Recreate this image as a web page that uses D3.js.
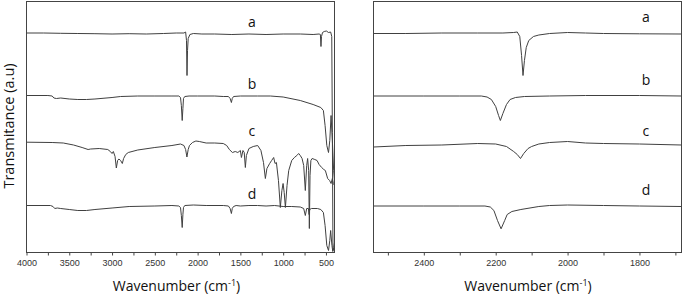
<!DOCTYPE html>
<html>
<head>
<meta charset="utf-8">
<script src="https://cdn.jsdelivr.net/npm/d3@7"></script>
<style>
	body { margin: 0; background: #fff; }
	.axis text { font-family: "Liberation Sans", Arial, sans-serif; font-size: 9px; fill: #333; }
	.axis line { stroke: #444; }
	.frame { fill: none; stroke: #444; stroke-width: 1; }
	.spec { fill: none; stroke: #404040; stroke-width: 1; }
	.lbl { font-family: "Open Sans", "Noto Sans", sans-serif; fill: #111; }
</style>
</head>
<body>
<div id="chart"></div>
<script>
// series names
var seriesNames = ["a", "b", "c", "d"];

// full range spectra [wavenumber, transmittance a.u.]
var fullA = [[4000,2.195],[3800,2.195],[3600,2.192],[3400,2.19],[3200,2.188],[3000,2.185],[2800,2.188],[2600,2.185],[2400,2.19],[2250,2.195],[2160,2.195],[2140,2.205],[2130,2.12],[2124,1.77],[2118,2.02],[2110,2.14],[2090,2.18],[2050,2.19],[1950,2.185],[1800,2.185],[1600,2.18],[1400,2.185],[1200,2.18],[1000,2.185],[800,2.185],[650,2.18],[580,2.185],[565,2.18],[558,2.06],[552,2.16],[540,2.2],[520,2.21],[495,2.215],[470,2.2],[445,2.205],[432,2.16],[425,1.2],[418,0.02],[410,0.05],[400,0.1]];
var fullB = [[4000,1.57],[3750,1.57],[3700,1.565],[3680,1.545],[3650,1.54],[3600,1.545],[3500,1.535],[3400,1.53],[3300,1.53],[3200,1.535],[3000,1.55],[2900,1.56],[2700,1.565],[2500,1.565],[2300,1.565],[2220,1.565],[2200,1.55],[2190,1.47],[2180,1.32],[2172,1.44],[2165,1.54],[2150,1.56],[2100,1.565],[2000,1.565],[1800,1.565],[1700,1.56],[1640,1.56],[1620,1.54],[1605,1.50],[1595,1.54],[1580,1.56],[1500,1.565],[1300,1.565],[1150,1.565],[1000,1.555],[800,1.52],[650,1.48],[560,1.45],[530,1.42],[510,1.27],[490,1.07],[470,1.0],[455,1.12],[440,1.37],[425,1.12],[410,0.82],[400,0.72]];
var fullC = [[4000,1.103],[3700,1.10],[3570,1.095],[3450,1.075],[3350,1.05],[3280,1.03],[3250,1.035],[3150,1.04],[3050,1.03],[3020,1.01],[3000,0.99],[2985,1.01],[2965,0.96],[2950,0.845],[2935,0.92],[2920,0.935],[2900,0.92],[2880,0.89],[2865,0.94],[2840,0.98],[2810,1.00],[2700,1.025],[2500,1.05],[2300,1.07],[2200,1.085],[2160,1.07],[2140,1.03],[2125,0.955],[2110,1.03],[2095,1.07],[2060,1.10],[2020,1.115],[1980,1.11],[1900,1.095],[1800,1.095],[1700,1.09],[1660,1.07],[1629,1.03],[1593,1.00],[1560,1.01],[1530,1.00],[1500,1.02],[1488,0.95],[1470,1.02],[1455,1.00],[1442,0.85],[1430,0.97],[1400,1.04],[1350,1.06],[1298,1.07],[1260,1.02],[1230,0.90],[1208,0.74],[1190,0.84],[1158,0.89],[1135,0.92],[1111,0.95],[1095,0.89],[1079,0.90],[1055,0.72],[1033,0.45],[1015,0.62],[1001,0.69],[988,0.60],[974,0.45],[955,0.67],[935,0.82],[900,0.92],[869,0.95],[840,0.97],[819,0.99],[800,0.97],[779,0.94],[760,0.87],[741,0.62],[725,0.87],[714,0.94],[702,0.82],[694,0.24],[686,0.77],[676,0.92],[662,0.94],[630,0.93],[604,0.92],[580,0.88],[550,0.85],[525,0.83],[507,0.82],[480,0.74],[457,0.72],[440,0.69],[425,0.74],[414,0.69],[400,0.67]];
var fullD = [[4000,0.47],[3720,0.47],[3690,0.46],[3670,0.44],[3640,0.445],[3600,0.44],[3500,0.43],[3400,0.42],[3300,0.42],[3200,0.43],[3000,0.445],[2800,0.46],[2500,0.465],[2300,0.47],[2220,0.465],[2200,0.45],[2190,0.37],[2180,0.25],[2172,0.38],[2165,0.45],[2150,0.47],[2050,0.475],[1900,0.47],[1700,0.47],[1640,0.465],[1620,0.44],[1605,0.39],[1595,0.44],[1580,0.46],[1550,0.47],[1500,0.465],[1400,0.47],[1300,0.47],[1200,0.465],[1100,0.47],[1000,0.46],[900,0.46],[800,0.455],[760,0.44],[741,0.37],[725,0.44],[705,0.44],[697,0.38],[690,0.43],[670,0.44],[600,0.44],[560,0.43],[530,0.40],[510,0.27],[490,0.07],[470,0.02],[455,0.12],[445,0.22],[430,0.07],[420,0.01],[410,0.04],[400,0.02]];

// zoomed spectra (2540 - 1683 cm-1)
var zoomA = [[2540,2.19],[2450,2.19],[2350,2.195],[2250,2.195],[2180,2.195],[2150,2.2],[2140,2.205],[2133,2.16],[2128,1.97],[2124,1.77],[2120,1.92],[2115,2.05],[2108,2.12],[2095,2.16],[2080,2.175],[2050,2.19],[2000,2.2],[1950,2.195],[1900,2.19],[1800,2.187],[1683,2.185]];
var zoomB = [[2540,1.565],[2400,1.565],[2300,1.565],[2240,1.565],[2224,1.555],[2212,1.53],[2200,1.46],[2192,1.37],[2187,1.32],[2180,1.39],[2170,1.48],[2160,1.53],[2145,1.55],[2120,1.56],[2050,1.565],[1950,1.57],[1800,1.57],[1683,1.565]];
var zoomC = [[2540,1.055],[2450,1.07],[2350,1.075],[2250,1.09],[2200,1.085],[2170,1.06],[2150,1.01],[2140,0.98],[2131,0.94],[2122,0.99],[2110,1.04],[2100,1.06],[2080,1.085],[2050,1.10],[2000,1.11],[1950,1.095],[1900,1.09],[1800,1.085],[1683,1.075]];
var zoomD = [[2540,0.465],[2400,0.465],[2300,0.465],[2230,0.465],[2215,0.455],[2205,0.42],[2195,0.32],[2185,0.237],[2175,0.32],[2168,0.38],[2155,0.41],[2130,0.43],[2080,0.46],[2050,0.47],[2000,0.475],[1900,0.47],[1800,0.465],[1683,0.46]];

// axis ticks
var fullTicks = d3.range(4000, 399, -250);
var fullLabels = [4000, 3500, 3000, 2500, 2000, 1500, 1000, 500];
var zoomTicks = d3.range(2500, 1683, -100);
var zoomLabels = [2400, 2200, 2000, 1800];

var width = 683, height = 298;
var svg = d3.select("#chart").append("svg")
			.attr("width", width)
			.attr("height", height);

var plotTop = 1.5, plotBottom = 252.5;
var yScale = d3.scaleLinear().domain([0, 2.51]).range([plotBottom, plotTop]);

function drawPanel(left, right, domain, ticks, labels, spectra, labelWave, labelGap, titleShift){
	var xScale = d3.scaleLinear().domain(domain).range([left, right]);
	var g = svg.append("g");

	var line = d3.line()
				.x(function(d){ return xScale(d[0]); })
				.y(function(d){ return yScale(d[1]); });

	var clipId = "clip" + Math.round(left);
	g.append("clipPath").attr("id", clipId)
		.append("rect")
		.attr("x", left).attr("y", plotTop)
		.attr("width", right - left).attr("height", plotBottom - plotTop);

	g.selectAll("path.spec").data(spectra).enter()
		.append("path")
		.attr("class", "spec")
		.attr("clip-path", "url(#" + clipId + ")")
		.attr("d", line);

	// series letters
	g.selectAll("text.lbl").data(spectra).enter()
		.append("text")
		.attr("class", "lbl")
		.attr("x", xScale(labelWave))
		.attr("y", function(d){ return yScale(d[0][1]) - labelGap; })
		.attr("text-anchor", "middle")
		.attr("dominant-baseline", "central")
		.style("font-size", "14px")
		.text(function(d, i){ return seriesNames[i]; });

	var xAxis = d3.axisBottom(xScale)
				.tickValues(ticks)
				.tickSize(3)
				.tickPadding(4)
				.tickFormat(function(d){ return labels.indexOf(d) >= 0 ? d : ""; });
	var ax = g.append("g").attr("class", "axis")
		.attr("transform", "translate(0," + plotBottom + ")")
		.call(xAxis);
	ax.select(".domain").remove();

	g.append("rect").attr("class", "frame")
		.attr("x", left).attr("y", plotTop)
		.attr("width", right - left).attr("height", plotBottom - plotTop);

	// x label with superscript
	var t = g.append("text").attr("class", "lbl")
		.attr("x", (left + right) / 2 + titleShift)
		.attr("y", 291)
		.attr("text-anchor", "middle")
		.style("font-size", "14px");
	t.append("tspan").text("Wavenumber (cm");
	t.append("tspan").attr("dy", -5).style("font-size", "9px").text("-1");
	t.append("tspan").attr("dy", 5).text(")");
}

drawPanel(26.5, 334.5, [4000, 400], fullTicks, fullLabels, [fullA, fullB, fullC, fullD], 1365, 12, -4);
drawPanel(373.5, 681.5, [2540, 1683], zoomTicks, zoomLabels, [zoomA, zoomB, zoomC, zoomD], 1782, 17, 0.5);

svg.append("text").attr("class", "lbl")
	.attr("transform", "translate(14,126) rotate(-90)")
	.attr("text-anchor", "middle")
	.style("font-size", "14.5px")
	.text("Transmitance (a.u)");
</script>
</body>
</html>
